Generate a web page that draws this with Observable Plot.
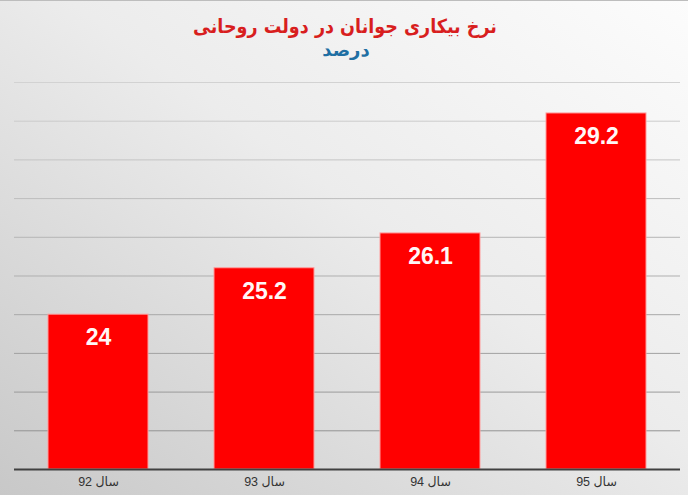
<!DOCTYPE html>
<html>
<head>
<meta charset="utf-8">
<script src="https://cdn.jsdelivr.net/npm/d3@7"></script>
<script src="https://cdn.jsdelivr.net/npm/@observablehq/plot@0.6"></script>
<style>
  html, body { margin: 0; padding: 0; }
  #wrap {
    position: relative; width: 688px; height: 495px; overflow: hidden;
    background: linear-gradient(to bottom left, #fcfcfc 0%, #ececec 45%, #c8c8c8 100%);
    box-sizing: border-box; border-top: 1px solid #bdbdbd;
  }
  #title {
    position: absolute; left: 0; width: 690px; top: 12px; text-align: center;
    font-family: "DejaVu Sans Condensed", "DejaVu Sans", sans-serif; font-stretch: condensed;
    font-weight: bold; font-size: 19.5px;
    color: #d81e1e; direction: rtl; line-height: 28px;
  }
  #subtitle {
    position: absolute; left: 0; width: 692px; top: 37px; text-align: center;
    font-family: "DejaVu Sans", sans-serif; font-weight: bold; font-size: 18px;
    color: #1f6fa3; direction: rtl; line-height: 24px;
  }
  #chart { position: absolute; left: 0; top: 60px; }
</style>
</head>
<body>
<div id="wrap">
  <div id="title">نرخ بیکاری جوانان در دولت روحانی</div>
  <div id="subtitle">درصد</div>
  <div id="chart"></div>
</div>
<script>
const categories = ["سال 92", "سال 93", "سال 94", "سال 95"];
const values = [24, 25.2, 26.1, 29.2];
const labels = ["24", "25.2", "26.1", "29.2"];
const yDomain = [20, 30];
const gridTicks = [21, 22, 23, 24, 25, 26, 27, 28, 29, 30];

const data = categories.map((c, i) => ({cat: c, value: values[i], label: labels[i]}));
const gridColor = d3.interpolateRgb("#8c8c8c", "#d2d2d2");

const chart = Plot.plot({
  width: 688,
  height: 435,
  marginTop: 21,
  marginBottom: 27,
  marginLeft: 14,
  marginRight: 8,
  style: {background: "transparent", overflow: "visible"},
  x: {domain: categories, paddingInner: 0.4, paddingOuter: 0.2, label: null, tickSize: 0, tickPadding: 8},
  y: {domain: yDomain, axis: null},
  marks: [
    Plot.ruleY(gridTicks, {y: d => d, stroke: d => gridColor((d - yDomain[0]) / (yDomain[1] - yDomain[0])), strokeWidth: 1}),
    Plot.barY(data, {x: "cat", y1: yDomain[0], y2: "value", fill: "#ff0000", stroke: "#ff9c9c", strokeWidth: 1}),
    Plot.ruleY([yDomain[0]], {stroke: "#404040", strokeWidth: 2}),
    Plot.text(data, {x: "cat", y: "value", text: "label", dy: 23, fill: "#fff6f6",
      fontSize: 23, fontWeight: "bold", fontFamily: "Liberation Sans, Arial, sans-serif"}),
    Plot.axisX({tickSize: 0, tickPadding: 8, fontSize: 12.5, fill: "#333",
      fontFamily: "Liberation Sans, DejaVu Sans, sans-serif", label: null})
  ]
});
document.getElementById("chart").appendChild(chart);
</script>
</body>
</html>
